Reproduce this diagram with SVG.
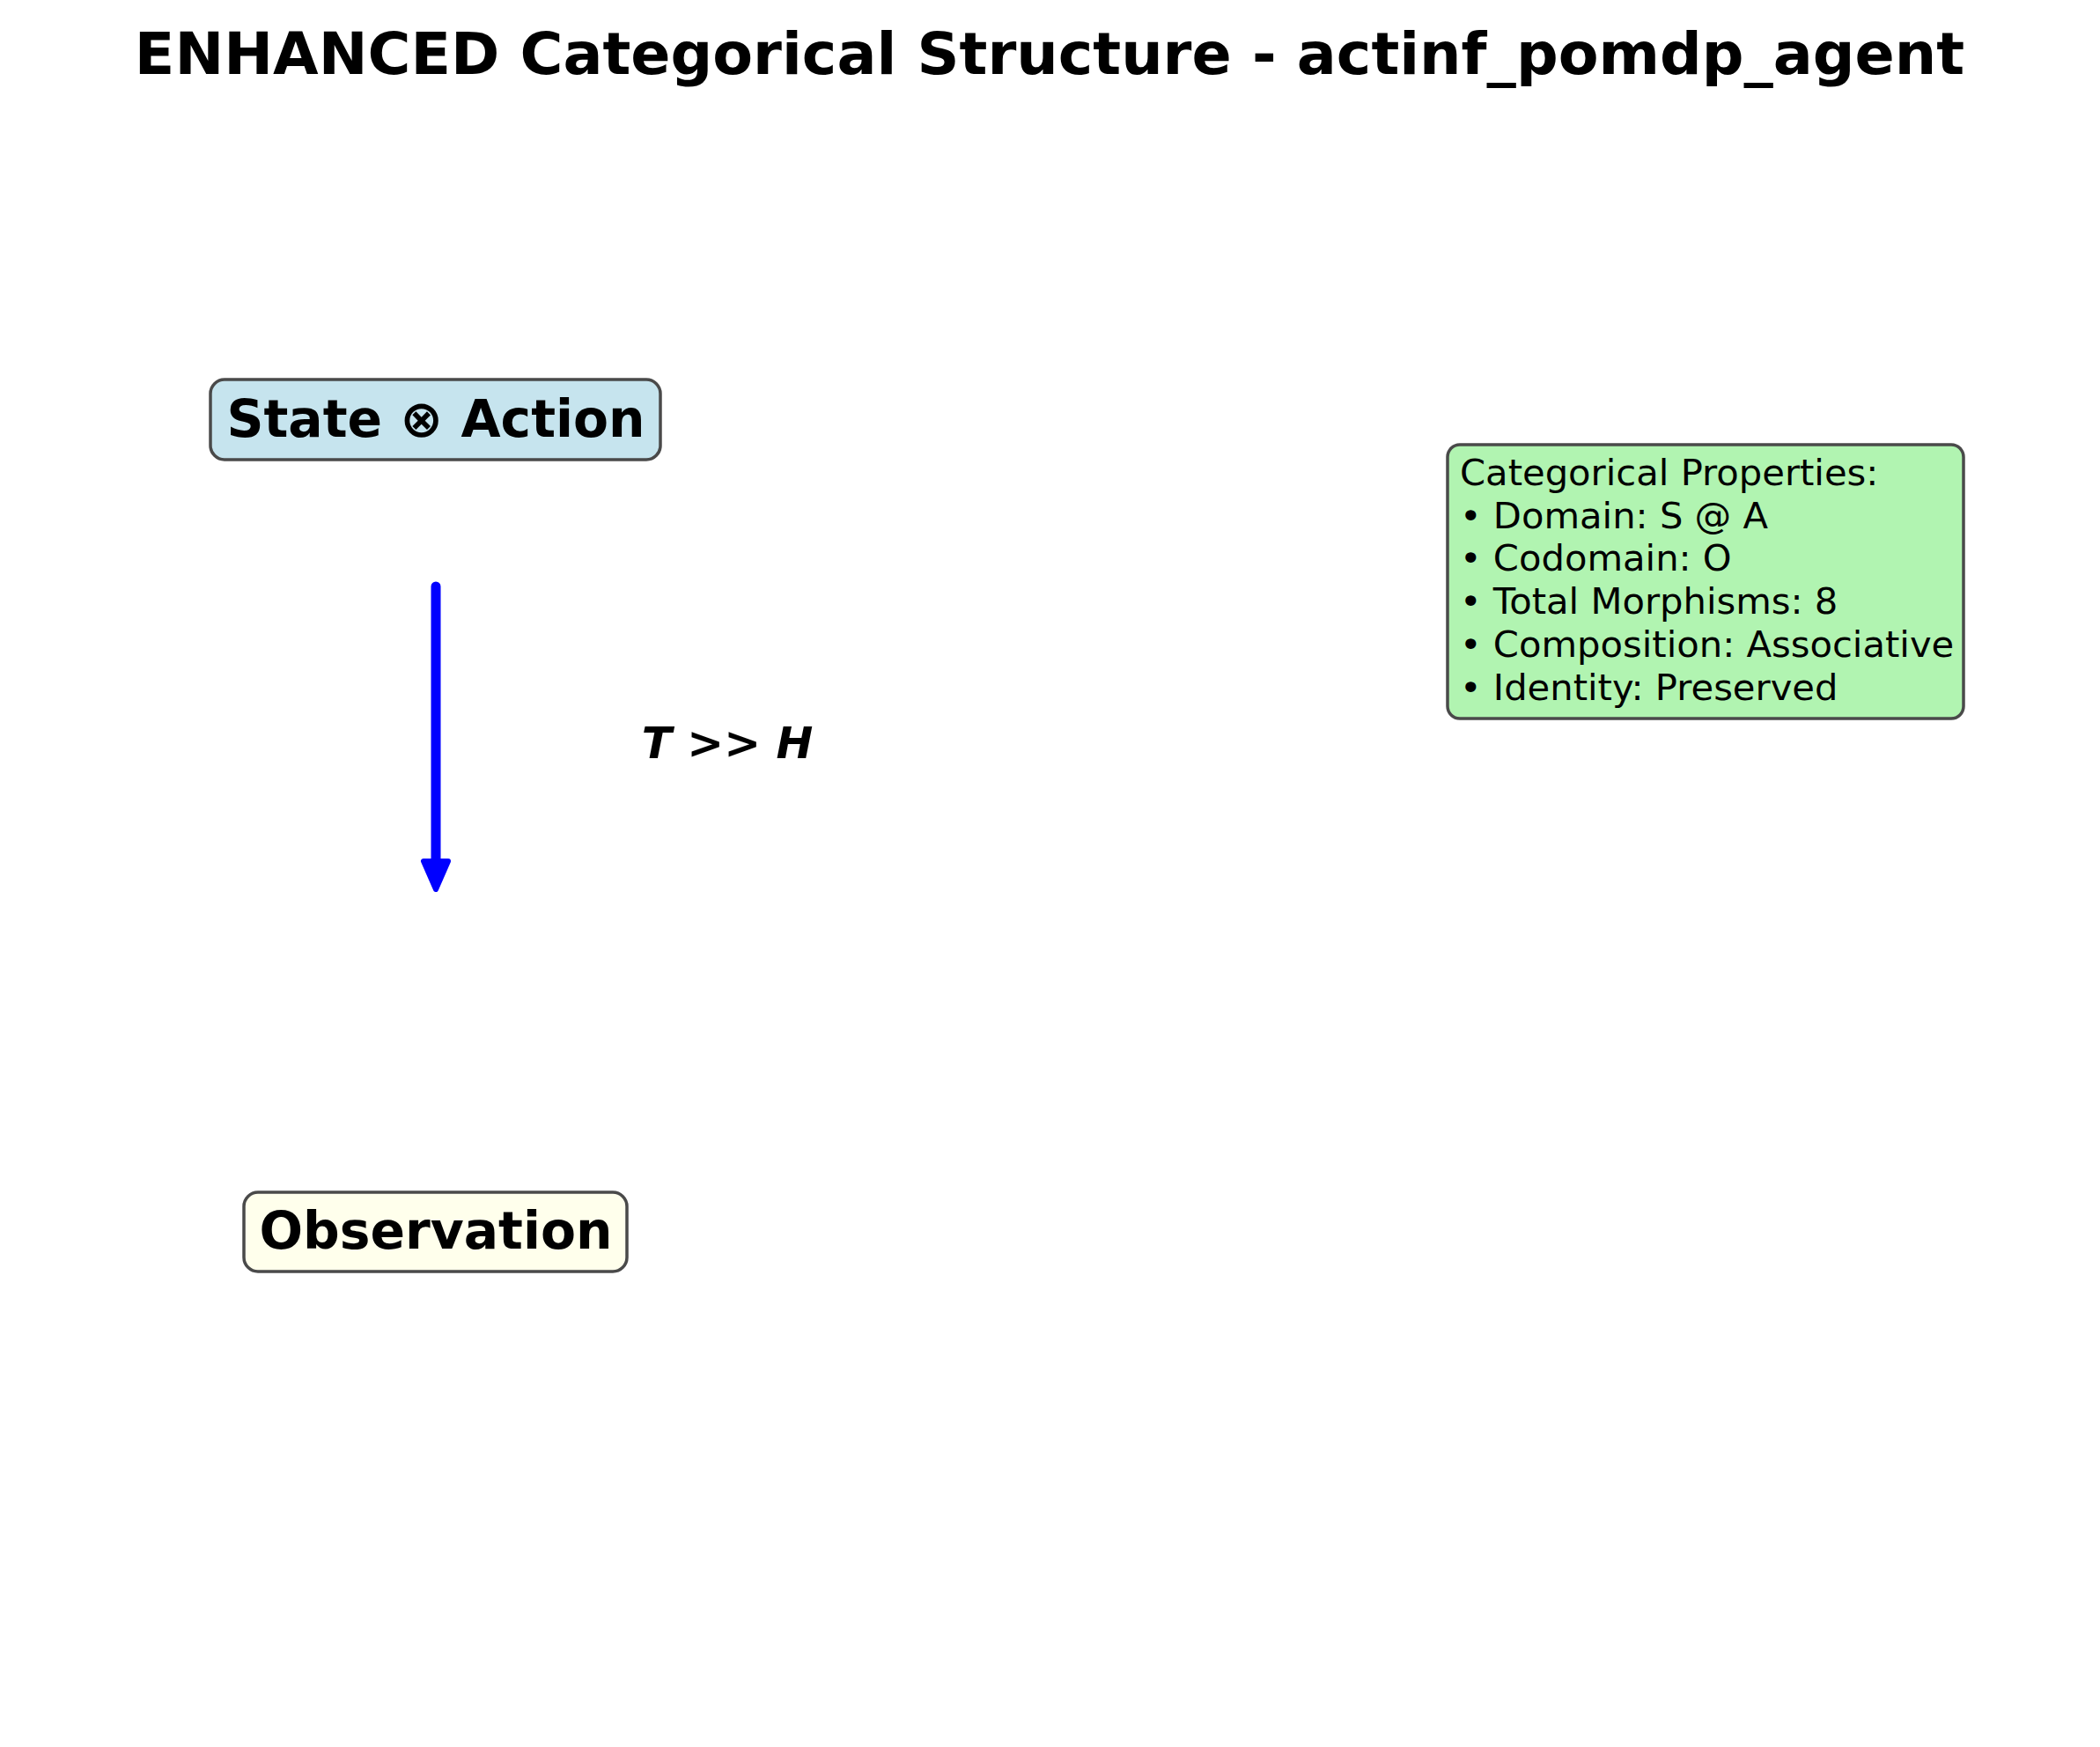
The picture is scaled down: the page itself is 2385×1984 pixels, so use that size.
<svg xmlns="http://www.w3.org/2000/svg" width="2385" height="1984" viewBox="0 0 2385 1984">
<style>
.bg{fill:#ffffff}
.title{font-family:"DejaVu Sans",sans-serif;font-weight:bold;font-size:66.7px;fill:#000}
.node rect{stroke:#4a4a4a;stroke-width:3.5}
.nlabel{font-family:"DejaVu Sans",sans-serif;font-weight:bold;font-size:58.3px;fill:#000;text-anchor:middle}
.elabel{font-family:"DejaVu Sans",sans-serif;font-weight:bold;font-style:italic;font-size:50px;fill:#000;text-anchor:middle}
.props{font-family:"DejaVu Sans",sans-serif;font-size:41.7px;fill:#000}
.edge{stroke:#0000ff;stroke-width:11;stroke-linecap:round;fill:none}
.head{fill:#0000ff;stroke:#0000ff;stroke-width:6;stroke-linejoin:round}
</style>
<rect class="bg" x="0" y="0" width="2385" height="1984"/>
<text class="title" x="1192" y="84" text-anchor="middle">ENHANCED Categorical Structure - actinf_pomdp_agent</text>
<g id="connectors">
<line class="edge" x1="495" y1="666" x2="495" y2="982"/>
<path class="head" d="M481,978 L509,978 L495,1010 Z"/>
<text class="elabel" x="826" y="861">T &gt;&gt; H</text>
</g>
<g id="node-state-action" class="node">
<rect x="239" y="431" width="511" height="91" rx="16" ry="16" fill="#c6e4ee"/>
<text class="nlabel" x="495" y="496">State ⊗ Action</text>
</g>
<g id="node-observation" class="node">
<rect x="277" y="1354" width="435" height="90" rx="16" ry="16" fill="#ffffec"/>
<text class="nlabel" x="495" y="1418">Observation</text>
</g>
<g id="properties" class="node">
<rect x="1644" y="505" width="586" height="311" rx="14" ry="14" fill="#b1f4b1"/>
<text class="props" x="1658" y="551">Categorical Properties:</text>
<text class="props" x="1658" y="600">• Domain: S @ A</text>
<text class="props" x="1658" y="648">• Codomain: O</text>
<text class="props" x="1658" y="697">• Total Morphisms: 8</text>
<text class="props" x="1658" y="746">• Composition: Associative</text>
<text class="props" x="1658" y="795">• Identity: Preserved</text>
</g>
</svg>
